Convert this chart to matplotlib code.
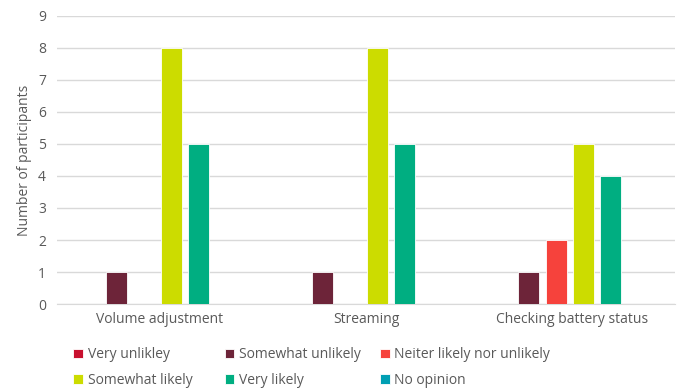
import matplotlib
matplotlib.use("Agg")
import matplotlib.pyplot as plt
import numpy as np

categories = ["Volume adjustment", "Streaming", "Checking battery status"]
series_names = ["Very unlikley", "Somewhat unlikely", "Neiter likely nor unlikely",
                "Somewhat likely", "Very likely", "No opinion"]
very_unlikely = [0, 0, 0]
somewhat_unlikely = [1, 1, 1]
neither = [0, 0, 2]
somewhat_likely = [8, 8, 5]
very_likely = [5, 5, 4]
no_opinion = [0, 0, 0]
colors = ["#C8102E", "#6D2439", "#F6423C", "#CCDC00", "#00AE81", "#009FB3"]

series = [very_unlikely, somewhat_unlikely, neither, somewhat_likely, very_likely, no_opinion]

plt.rcParams["font.family"] = ["Open Sans", "DejaVu Sans"]
text_col = "#595959"

fig = plt.figure(figsize=(6.77, 3.9), dpi=100)
ax = fig.add_axes([0.0842, 0.2205, 0.9128, 0.7385])

x = np.arange(len(categories))
step = 0.1326
width = 0.102
handles = []
for i, (vals, name, c) in enumerate(zip(series, series_names, colors)):
    offs = (i - 2.5) * step - 0.01
    h = ax.bar(x + offs, vals, width=width, color=c, edgecolor="white", linewidth=0.6,
               label=name, zorder=3)
    handles.append(h)

ax.set_xlim(-0.5, 2.5)
ax.set_ylim(0, 9)
ax.set_yticks(range(0, 10))
ax.set_xticks(x)
ax.set_xticklabels(categories)
ax.tick_params(axis="both", length=0, colors=text_col, labelsize=10)
ax.tick_params(axis="x", pad=6)
ax.tick_params(axis="y", pad=8)
ax.grid(axis="y", color="#D9D9D9", linewidth=1, zorder=0)
for s in ["top", "right", "left"]:
    ax.spines[s].set_visible(False)
ax.spines["bottom"].set_color("#D9D9D9")
ax.set_ylabel("Number of participants", color=text_col, fontsize=10, labelpad=4)

# Legend laid out row by row in three fixed-width columns
col_x = [0.108, 0.332, 0.561]
for col in range(3):
    hs = [handles[col], handles[col + 3]]
    ls = [series_names[col], series_names[col + 3]]
    leg = fig.legend(hs, ls, loc="upper left", bbox_to_anchor=(col_x[col], 0.109),
                     frameon=False, fontsize=10, handlelength=0.7, handleheight=0.7,
                     handletextpad=0.35, labelspacing=0.75, borderpad=0, borderaxespad=0)
    for t in leg.get_texts():
        t.set_color(text_col)

fig.savefig("out.png", dpi=100)
